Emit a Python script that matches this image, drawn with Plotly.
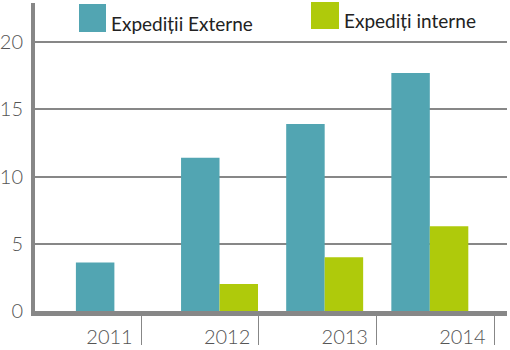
import plotly.graph_objects as go

# Data
years = ["2011", "2012", "2013", "2014"]
externe = [3.6, 11.4, 13.9, 17.7]
interne = [None, 2.0, 4.0, 6.3]
series_names = ["Expediții Externe", "Expediți interne"]
y_ticks = [0, 5, 10, 15, 20]

TEAL = "#52A5B2"
GREEN = "#AFCA0B"
AXIS_GRAY = "#878787"
FONT = "Lato, 'Open Sans', sans-serif"

fig = go.Figure()
fig.add_trace(go.Bar(x=years, y=externe, name=series_names[0],
                     marker=dict(color=TEAL, line=dict(width=0)), showlegend=False))
fig.add_trace(go.Bar(x=years, y=interne, name=series_names[1],
                     marker=dict(color=GREEN, line=dict(width=0)), showlegend=False))
# empty helper trace so the year-label axis gets drawn
fig.add_trace(go.Scatter(x=[None], y=[None], xaxis="x2", mode="markers",
                         hoverinfo="skip", showlegend=False))

# Plot area in pixels: x 35..507, y 3..311
L, R, T, B = 35, 3, 3, 39
W, H = 510, 350
pw, ph = W - L - R, H - T - B

def px(x):
    return (x - L) / pw

def py(y):
    return (H - B - y) / ph

# Legend drawn as swatches + labels
swatches = [(79, 4, 106, 32, TEAL), (311, 2, 339, 29, GREEN)]
for x0, y0, x1, y1, c in swatches:
    fig.add_shape(type="rect", xref="paper", yref="paper",
                  x0=px(x0), x1=px(x1), y0=py(y1), y1=py(y0),
                  fillcolor=c, line=dict(width=0), layer="above")
for name, xl, ym in [(series_names[0], 109, 23), (series_names[1], 342, 20)]:
    fig.add_annotation(text=name, xref="paper", yref="paper",
                       x=px(xl), y=py(ym), xanchor="left", yanchor="middle",
                       showarrow=False, font=dict(family=FONT, size=19, color="#222222"))

tick_font = dict(family=FONT, size=20, color="#555555", weight=300)

fig.update_layout(
    width=W, height=H,
    margin=dict(l=L, r=R, t=T, b=B, autoexpand=False),
    paper_bgcolor="white", plot_bgcolor="white",
    barmode="group", bargap=0.268, bargroupgap=0,
    font=dict(family=FONT, color="#555555"),
    xaxis=dict(type="category", range=[-0.755, 3.734], automargin=False,
               showticklabels=False, ticks="", showgrid=False, zeroline=False,
               showline=True, linecolor=AXIS_GRAY, linewidth=5),
    xaxis2=dict(overlaying="x", anchor="y", side="bottom", type="linear",
                range=[-0.403, 3.61], tickmode="array", automargin=False,
                tickvals=[0.5, 1.5, 2.5, 3.5], ticktext=years,
                ticklabelposition="outside left", ticklabelshift=-8,
                ticklabelstandoff=8,
                ticks="outside", ticklen=33, tickwidth=1, tickcolor=AXIS_GRAY,
                showgrid=False, zeroline=False, showline=False,
                tickfont=tick_font),
    yaxis=dict(range=[0, 22.9], tickmode="array", tickvals=y_ticks,
               automargin=False,
               showgrid=True, gridcolor=AXIS_GRAY, gridwidth=2,
               zeroline=False, showline=True, linecolor=AXIS_GRAY, linewidth=4,
               ticks="", ticklabelstandoff=4,
               tickfont=tick_font),
)

fig.write_html("out.html")
